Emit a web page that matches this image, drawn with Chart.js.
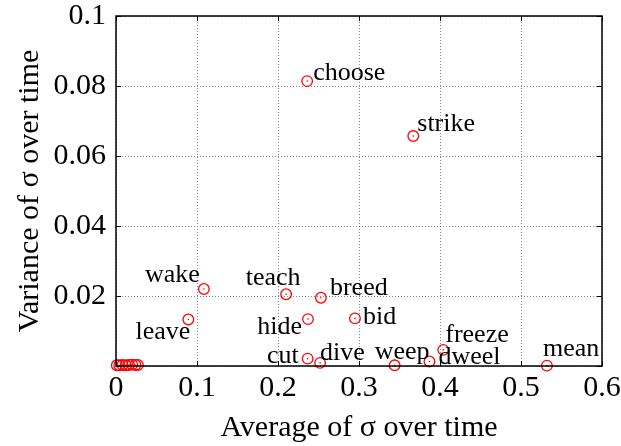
<!DOCTYPE html>
<html>
<head>
<meta charset="utf-8">
<script src="https://cdn.jsdelivr.net/npm/chart.js@4/dist/chart.umd.min.js"></script>
<style>
  html, body { margin: 0; padding: 0; background: #fff; }
  #wrap { width: 621px; height: 446px; }
</style>
</head>
<body>
<div id="wrap"><canvas id="c" width="621" height="446"></canvas></div>
<script>
// ---- data ----
const words = ['choose','strike','wake','teach','breed','leave','hide','bid','cut','dive','weep','dweel','freeze','mean'];
const avgSigma = [0.236, 0.367, 0.1085, 0.210, 0.253, 0.0893, 0.237, 0.295, 0.2366, 0.252, 0.344, 0.387, 0.404, 0.532];
const varSigma = [0.0814, 0.0657, 0.0220, 0.0205, 0.0195, 0.0133, 0.0134, 0.0136, 0.0021, 0.0009, 0.0002, 0.0013, 0.0046, 0.0001];
// unlabeled words clustered near the origin
const clusterAvg = [0.001, 0.004, 0.008, 0.012, 0.016, 0.020, 0.024, 0.027];
const clusterVar = [0.0002, 0.0002, 0.0003, 0.0002, 0.0003, 0.0004, 0.0003, 0.0003];
const xTicks = [0, 0.1, 0.2, 0.3, 0.4, 0.5, 0.6];
const yTicks = [0, 0.02, 0.04, 0.06, 0.08, 0.1];
const xTitle = 'Average of σ over time';
const yTitle = 'Variance of σ over time';

// label placement (style only): [dx, dy, align]
const labelPlacement = [
  [6, -8, 'left'], [4, -12, 'left'], [-4, -14, 'right'], [-13, -16, 'center'],
  [9, -10, 'left'], [2, 13, 'right'], [-6, 8, 'right'], [8, -1, 'left'],
  [-9, -2, 'right'], [0, -10, 'left'], [-20, -13, 'left'], [9, -4, 'left'],
  [2, -15, 'left'], [-4, -16, 'left']
];

const allPts = avgSigma.map((x, i) => ({x, y: varSigma[i]}))
  .concat(clusterAvg.map((x, i) => ({x, y: clusterVar[i]})));

const SERIF = '"Liberation Serif", "Times New Roman", serif';

const frame = {
  id: 'frame',
  afterDatasetsDraw(chart) {
    const {ctx, chartArea: a, scales} = chart;
    ctx.save();
    ctx.strokeStyle = '#000';
    ctx.lineWidth = 1;
    // inward ticks
    const L = 5;
    ctx.beginPath();
    xTicks.forEach(v => {
      const px = Math.round(scales.x.getPixelForValue(v)) + 0.5;
      ctx.moveTo(px, a.bottom); ctx.lineTo(px, a.bottom - L);
      ctx.moveTo(px, a.top); ctx.lineTo(px, a.top + L);
    });
    yTicks.forEach(v => {
      const py = Math.round(scales.y.getPixelForValue(v)) + 0.5;
      ctx.moveTo(a.left, py); ctx.lineTo(a.left + L, py);
      ctx.moveTo(a.right, py); ctx.lineTo(a.right - L, py);
    });
    ctx.stroke();
    ctx.lineWidth = 1.5;
    ctx.strokeRect(a.left, a.top, a.right - a.left, a.bottom - a.top);
    // word labels
    ctx.fillStyle = '#000';
    ctx.font = '26px ' + SERIF;
    ctx.textBaseline = 'middle';
    const meta = chart.getDatasetMeta(0);
    words.forEach((w, i) => {
      const el = meta.data[i];
      const [dx, dy, al] = labelPlacement[i];
      ctx.textAlign = al;
      ctx.fillText(w, el.x + dx, el.y + dy);
    });
    ctx.restore();
  }
};

new Chart(document.getElementById('c'), {
  type: 'scatter',
  data: {
    datasets: [
      {
        data: allPts,
        pointStyle: 'circle',
        pointRadius: 5.3,
        pointHoverRadius: 5.3,
        borderColor: '#ff0000',
        backgroundColor: 'rgba(0,0,0,0)',
        borderWidth: 1.3,
        clip: false
      },
      {
        data: allPts,
        pointStyle: 'circle',
        pointRadius: 0.8,
        pointHoverRadius: 0.8,
        borderWidth: 0,
        backgroundColor: '#ff0000',
        clip: false
      }
    ]
  },
  options: {
    responsive: false,
    animation: false,
    events: [],
    layout: { padding: { left: 10, right: 19, top: 16, bottom: 0 } },
    plugins: { legend: { display: false }, tooltip: { enabled: false } },
    scales: {
      x: {
        type: 'linear',
        min: 0, max: 0.6,
        afterBuildTicks: s => { s.ticks = xTicks.map(v => ({value: v})); },
        afterFit: s => { s.height = 80; s.paddingLeft = 0; s.paddingRight = 0; },
        ticks: {
          font: { family: SERIF, size: 30 },
          color: '#000',
          padding: 4,
          maxRotation: 0,
          callback: v => String(v)
        },
        grid: { color: '#888', lineWidth: 1, drawTicks: false },
        border: { display: false, dash: [1, 2] },
        title: {
          display: true, text: xTitle, color: '#000',
          font: { family: SERIF, size: 30 },
          padding: { top: 0, bottom: 0 }
        }
      },
      y: {
        type: 'linear',
        min: 0, max: 0.1,
        afterBuildTicks: s => { s.ticks = yTicks.map(v => ({value: v})); },
        afterFit: s => { s.width = 106; s.paddingTop = 0; s.paddingBottom = 0; },
        ticks: {
          font: { family: SERIF, size: 30 },
          color: '#000',
          padding: 10,
          callback: v => (v === 0 ? '' : String(v))
        },
        grid: { color: '#888', lineWidth: 1, drawTicks: false },
        border: { display: false, dash: [1, 2] },
        title: {
          display: true, text: yTitle, color: '#000',
          font: { family: SERIF, size: 30 },
          padding: { top: 2, bottom: 0 }
        }
      }
    }
  },
  plugins: [frame]
});
</script>
</body>
</html>
